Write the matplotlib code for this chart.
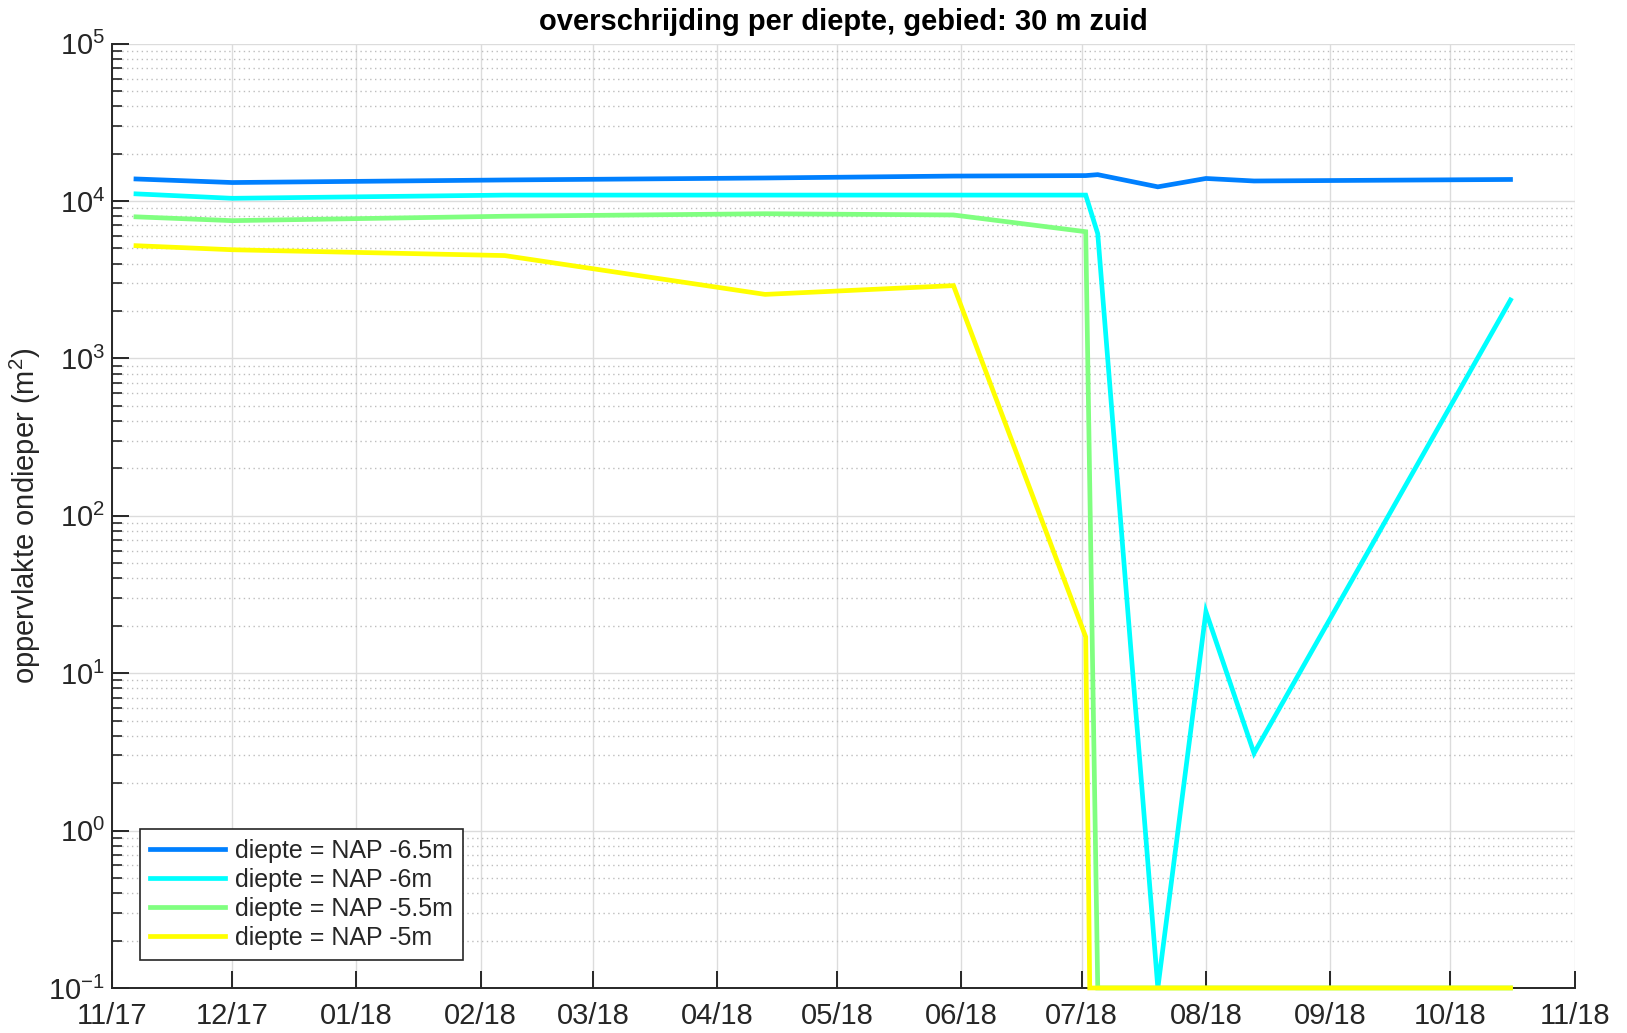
import matplotlib
matplotlib.use("Agg")
import matplotlib.pyplot as plt
import matplotlib.dates as mdates
from matplotlib.ticker import LogLocator, NullFormatter
import pandas as pd

# survey dates shared by most depth levels
dates = ["2017-11-07", "2017-12-01", "2018-02-07", "2018-04-13", "2018-05-30",
         "2018-07-02", "2018-07-05", "2018-07-20", "2018-08-01", "2018-08-13",
         "2018-10-16"]
# the -5m level has a reading on 3 July instead of the later July surveys
dates_5m = ["2017-11-07", "2017-12-01", "2018-02-07", "2018-04-13", "2018-05-30",
            "2018-07-02", "2018-07-03", "2018-10-16"]

area_65 = [13800, 13100, 13600, 14000, 14400, 14500, 14700, 12300, 13900, 13400, 13700]
area_60 = [11100, 10400, 10900, 10900, 10900, 10900, 6200, 0.1, 24.6, 3.1, 2350]
area_55 = [7930, 7500, 8000, 8300, 8150, 6380, 0.1, 0.1, 0.1, 0.1, 0.1]
area_50 = [5200, 4900, 4500, 2550, 2900, 17, 0.1, 0.1]

labels = ["diepte = NAP -6.5m", "diepte = NAP -6m",
          "diepte = NAP -5.5m", "diepte = NAP -5m"]
colors = ["#0080FF", "#00FFFF", "#80FF80", "#FFFF00"]

plt.rcParams["font.family"] = ["Liberation Sans", "DejaVu Sans"]
plt.rcParams["mathtext.default"] = "regular"
plt.rcParams["axes.unicode_minus"] = False

txt = "#262626"
fig = plt.figure(figsize=(16.27, 10.33), dpi=100)
ax = fig.add_axes([0.0688, 0.0436, 0.899, 0.9142])

series = [(dates, area_65), (dates, area_60), (dates, area_55), (dates_5m, area_50)]
for (d, v), lab, col in zip(series, labels, colors):
    ax.plot(pd.to_datetime(d), v, color=col, lw=3.4, label=lab,
            clip_on=False, zorder=5, solid_joinstyle="miter")

ax.set_yscale("log")
ax.set_ylim(1e-1, 1e5)
ax.set_xlim(pd.Timestamp("2017-11-01"), pd.Timestamp("2018-11-01"))

ax.xaxis.set_major_locator(mdates.MonthLocator())
ax.xaxis.set_major_formatter(mdates.DateFormatter("%m/%y"))
ax.yaxis.set_major_locator(LogLocator(base=10, numticks=20))
ax.yaxis.set_minor_locator(LogLocator(base=10, subs=range(2, 10), numticks=100))
ax.yaxis.set_minor_formatter(NullFormatter())

ax.grid(True, which="major", axis="both", color="#dcdcdc", lw=1.0, ls="-", zorder=0)
ax.grid(True, which="minor", axis="y", color="#bdbdbd", lw=1.0, ls=(0, (1, 2.5)), zorder=0)
ax.set_axisbelow(True)

for s in ("top", "right"):
    ax.spines[s].set_visible(False)
for s in ("left", "bottom"):
    ax.spines[s].set_color(txt)
    ax.spines[s].set_linewidth(1.4)

ax.tick_params(axis="both", which="major", direction="in", length=12, width=1.4,
               colors=txt, labelsize=21)
ax.tick_params(axis="x", which="major", pad=10)
ax.tick_params(axis="y", which="major", pad=5)
ax.tick_params(axis="y", which="minor", direction="in", length=7, width=1.2, colors=txt)
ax.tick_params(axis="x", which="minor", length=0)

ax.set_ylabel("oppervlakte ondieper (m$^2$)", fontsize=21, color=txt, labelpad=4)
ax.set_title("overschrijding per diepte, gebied: 30 m zuid", fontsize=21,
             fontweight="bold", color="black", pad=10,
             family=["Liberation Sans Narrow", "Liberation Sans"])

leg = ax.legend(loc="lower left", bbox_to_anchor=(0.019, 0.0297), borderaxespad=0,
                fontsize=18, handlelength=3.0, handletextpad=0.4,
                labelspacing=0.2, borderpad=0.4, fancybox=False, framealpha=1)
leg.get_frame().set_edgecolor(txt)
leg.get_frame().set_linewidth(1.2)
for t in leg.get_texts():
    t.set_color(txt)

fig.savefig("out.png", dpi=100)
